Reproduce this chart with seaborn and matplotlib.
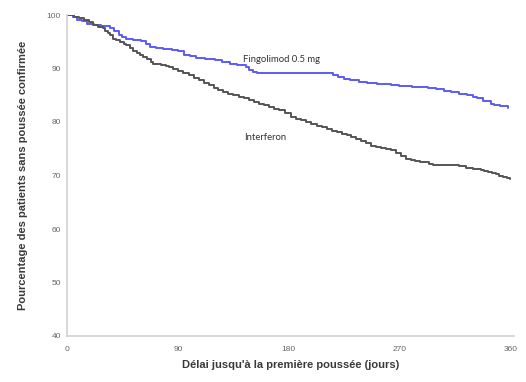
import matplotlib

matplotlib.use("Agg")
import matplotlib.pyplot as plt
import numpy as np
import pandas as pd
import seaborn as sns

# Kaplan-Meier style step curves
fingo_days = [0, 5, 8, 12, 16, 22, 28, 35, 38, 42, 45, 48, 54, 60, 64, 67, 72,
              78, 85, 90, 95, 100, 105, 112, 120, 126, 132, 138, 145, 148, 151,
              154, 212, 216, 220, 225, 230, 237, 244, 252, 263, 270, 280, 293,
              300, 306, 312, 318, 325, 330, 333, 338, 344, 347, 352, 358]
fingo_pct = [100, 99.6, 99.1, 98.8, 98.4, 98.2, 98.0, 97.5, 97.0, 96.3, 95.9,
             95.6, 95.4, 95.1, 94.6, 94.1, 93.8, 93.6, 93.4, 93.2, 92.6, 92.3,
             91.9, 91.7, 91.6, 91.2, 90.9, 90.6, 90.2, 89.8, 89.4, 89.1, 89.1,
             88.7, 88.4, 88.1, 87.8, 87.5, 87.2, 87.1, 86.9, 86.7, 86.5, 86.3,
             86.1, 85.8, 85.6, 85.3, 85.0, 84.7, 84.4, 84.0, 83.4, 83.1, 82.9,
             82.7]

inf_days = [0, 6, 10, 14, 18, 21, 25, 29, 31, 33, 35, 37, 40, 43, 46, 48, 51,
            54, 57, 59, 62, 65, 68, 70, 73, 76, 80, 83, 86, 90, 94, 99, 103,
            107, 111, 115, 119, 123, 127, 131, 135, 140, 144, 148, 152, 156,
            160, 164, 168, 172, 177, 182, 186, 190, 194, 198, 203, 207, 211,
            215, 219, 223, 227, 231, 235, 239, 243, 247, 251, 255, 259, 263,
            267, 271, 275, 279, 283, 287, 291, 294, 297, 313, 318, 324, 330,
            336, 339, 342, 345, 348, 351, 354, 357, 360]
inf_pct = [100, 99.7, 99.4, 99.1, 98.7, 98.1, 97.8, 97.5, 97.1, 96.6, 96.2,
           95.6, 95.3, 94.9, 94.6, 94.4, 93.9, 93.3, 92.9, 92.5, 92.1, 91.7,
           91.3, 90.9, 90.8, 90.6, 90.4, 90.3, 90.0, 89.6, 89.2, 88.75, 88.2,
           87.8, 87.3, 86.9, 86.4, 86.0, 85.6, 85.3, 85.0, 84.7, 84.4, 84.1,
           83.8, 83.4, 83.1, 82.8, 82.5, 82.2, 81.6, 80.9, 80.6, 80.3, 80.0,
           79.7, 79.3, 79.0, 78.7, 78.4, 78.1, 77.8, 77.5, 77.2, 76.8, 76.4,
           76.0, 75.6, 75.3, 75.1, 74.9, 74.7, 74.2, 73.6, 73.1, 72.9, 72.8,
           72.6, 72.5, 72.2, 72.0, 72.0, 71.7, 71.4, 71.3, 71.1, 70.9, 70.7,
           70.5, 70.3, 70.0, 69.8, 69.6, 69.4]

series_names = ["Fingolimod 0.5 mg", "Interferon"]
series_colors = ["#5b5bf5", "#555555"]
x_ticks = [0, 90, 180, 270, 360]
y_ticks = [40, 50, 60, 70, 80, 90, 100]


def main():
    df = pd.concat([
        pd.DataFrame({"Jours": fingo_days, "Pct": fingo_pct, "Groupe": series_names[0]}),
        pd.DataFrame({"Jours": inf_days, "Pct": inf_pct, "Groupe": series_names[1]}),
    ], ignore_index=True)

    sns.set_style("white")
    plt.rcParams["font.family"] = ["Liberation Sans", "DejaVu Sans"]

    fig = plt.figure(figsize=(5.26, 3.82), dpi=100)
    ax = fig.add_axes([67 / 526, 1 - 336 / 382, (514 - 67) / 526, (336 - 15) / 382])

    sns.lineplot(data=df, x="Jours", y="Pct", hue="Groupe", hue_order=series_names,
                 palette=series_colors, drawstyle="steps-post", linewidth=1.4,
                 legend=False, ax=ax, estimator=None)

    ax.set_xlim(0, 363)
    ax.set_ylim(40, 100)
    ax.set_xticks(x_ticks)
    ax.set_yticks(y_ticks)
    ax.tick_params(axis="both", labelsize=6, colors="#666666", length=2.5,
                   width=0.8, pad=2, direction="out")
    for side in ["top", "right"]:
        ax.spines[side].set_visible(False)
    for side in ["left", "bottom"]:
        ax.spines[side].set_color("#d4d4d4")
        ax.spines[side].set_linewidth(1.3)
    ax.tick_params(axis="both", color="#c8c8c8")
    ax.tick_params(axis="x", pad=5)

    ax.set_xlabel("Délai jusqu'à la première poussée (jours)", fontsize=8,
                  fontweight="bold", color="#3a3a3a", labelpad=5)
    ax.set_ylabel("Pourcentage des patients sans poussée confirmée", fontsize=8,
                  fontweight="bold", color="#3a3a3a", labelpad=13)

    ax.text(143, 91.75, "Fingolimod 0.5 mg", fontsize=6.8, color="#333333",
            family=["Lato", "DejaVu Sans"], va="center")
    ax.text(144, 77.1, "Interferon", fontsize=6.8, color="#333333",
            family=["Lato", "DejaVu Sans"], va="center")

    fig.savefig("out.png", dpi=100)
    plt.close(fig)


if __name__ == "__main__":
    main()
